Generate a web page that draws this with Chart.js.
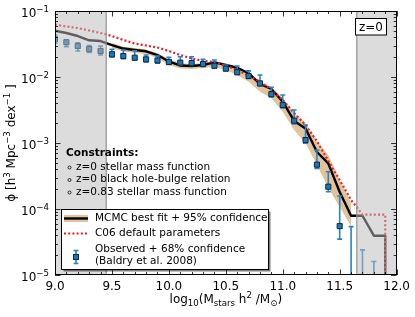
<!DOCTYPE html>
<html><head><meta charset="utf-8">
<script src="https://cdn.jsdelivr.net/npm/chart.js@4"></script>
<style>html,body{margin:0;padding:0;background:#fff}#wrap{width:415px;height:317px;position:relative}</style>
</head><body><div id="wrap"><canvas id="c"></canvas></div>
<script>
// ---------- data ----------
const massBins = [9.0,9.1,9.2,9.3,9.4,9.5,9.6,9.7,9.8,9.9,10.0,10.1,10.2,10.3,10.4,10.5,10.6,10.7,10.8,10.9,11.0,11.1,11.2,11.3,11.4,11.5,11.6,11.7,11.8,11.9];
const bestFit = [0.0503,0.0464,0.0418,0.0360,0.0351,0.0305,0.0270,0.0257,0.0245,0.0215,0.0172,0.0149,0.0147,0.0152,0.0167,0.0152,0.0138,0.0114,0.00783,0.00658,0.00422,0.00216,0.00166,0.00073,0.00049,0.000181,0.000079,0.000079,0.0000394,0.0000394];
const c06Default = [0.0624,0.0582,0.0552,0.0507,0.0464,0.0418,0.0364,0.0322,0.0300,0.0280,0.0248,0.0215,0.0191,0.0175,0.0169,0.0148,0.0128,0.0105,0.00849,0.00636,0.00449,0.00285,0.00187,0.00107,0.000534,0.000275,0.000137,0.000082,0.000082,0.000082];

const bandMass = [9.5,9.6,9.7,9.8,9.9,10.0,10.1,10.2,10.3,10.4,10.5,10.6,10.7,10.8,10.9,11.0,11.1,11.2,11.3,11.4,11.5,11.6];
const bandHi = [0.0327,0.0290,0.0275,0.0261,0.0231,0.0187,0.0163,0.0157,0.0163,0.0171,0.0156,0.0143,0.0120,0.00849,0.00713,0.00475,0.00285,0.00201,0.00105,0.000658,0.000275,0.000123];
const bandLo = [0.0275,0.0243,0.0231,0.0223,0.0194,0.0152,0.0135,0.0132,0.0137,0.0143,0.0128,0.0107,0.00849,0.00598,0.00475,0.00298,0.00157,0.00100,0.000464,0.000208,0.000107,0.000055];

const obsMass = [9.0,9.1,9.2,9.3,9.4,9.5,9.6,9.7,9.8,9.9,10.0,10.1,10.2,10.3,10.4,10.5,10.6,10.7,10.8,10.9,11.0,11.1,11.2,11.3,11.4,11.5,11.6,11.7,11.8];
const obsPhi = [0.0373,0.0336,0.0295,0.0265,0.0248,0.0221,0.0208,0.0196,0.0185,0.0178,0.0169,0.0165,0.0163,0.0157,0.0148,0.0134,0.0118,0.01035,0.0080,0.0055,0.00377,0.00218,0.00111,0.00047,0.000218,0.000055,null,null,null];
const obsHi = [0.0433,0.0364,0.0331,0.0300,0.0295,0.0263,0.0256,0.0250,0.0215,0.0208,0.0199,0.0203,0.0203,0.0185,0.0181,0.0152,0.0147,0.0124,0.0107,0.00698,0.00533,0.00316,0.00187,0.00078,0.000367,0.000157,0.000054,0.000024,0.000016];
const obsLo = [0.0324,0.0288,0.0248,0.0235,0.0215,0.0201,0.0189,0.0179,0.0169,0.0162,0.0155,0.0152,0.0149,0.0144,0.0137,0.0123,0.0109,0.00948,0.00731,0.00498,0.00339,0.00194,0.00099,0.00041,0.000183,0.000035,0,0,0];

const excludedRanges = [[9.0, 9.45], [11.65, 12.0]];
const xTickValues = [9.0,9.5,10.0,10.5,11.0,11.5,12.0];
const xTickLabels = ['9.0','9.5','10.0','10.5','11.0','11.5','12.0'];
const yTickExponents = [-5,-4,-3,-2,-1];

const legendLabels = ['MCMC best fit + 95% confidence','C06 default parameters','Observed + 68% confidence','(Baldry et al. 2008)'];
const constraintsTitle = 'Constraints:';
const constraintsItems = ['z=0 stellar mass function','z=0 black hole-bulge relation','z=0.83 stellar mass function'];
const redshiftLabel = 'z=0';

// ---------- styling ----------
const FONT = '"DejaVu Sans", sans-serif';
const FS = 10.5;      // legend / annotation text
const FT = 12;        // tick labels and axis titles
const BAND = 'rgba(222,184,135,0.85)';
const RED = 'rgb(230,32,38)';
const BLUE = 'rgb(31,119,180)';
const EDGE = 'rgb(10,40,70)';
const ERR = 'rgb(40,130,200)';
const GREYSPAN = 'rgba(187,187,187,0.51)';
const Y_MIN = 1e-5, Y_MAX = 0.1;

function toPts(xs, ys){ return xs.map((x,i)=>({x:x, y:ys[i]})); }
function withDrop(xs, ys){ const p = toPts(xs, ys); p.push({x: xs[xs.length-1], y: Y_MIN*1e-4}); return p; }

function drawRich(ctx, segs, x, y, align, size){
  const small = size * 0.72;
  const fontFor = k => (k==='n' ? size : small) + 'px ' + FONT;
  let w = 0;
  segs.forEach(s=>{ ctx.font = fontFor(s[1]); w += ctx.measureText(s[0]).width; });
  let cx = align==='center' ? x - w/2 : (align==='right' ? x - w : x);
  ctx.textAlign = 'left'; ctx.textBaseline = 'alphabetic';
  segs.forEach(s=>{
    ctx.font = fontFor(s[1]);
    const dy = s[1]==='sup' ? -size*0.42 : (s[1]==='sub' ? size*0.25 : 0);
    ctx.fillText(s[0], cx, y + dy);
    cx += ctx.measureText(s[0]).width;
  });
}

const OBS_INDEX = 4;
const errorBarPlugin = {
  id:'errorBars',
  beforeDatasetDraw(chart, args){
    if (args.index !== OBS_INDEX) return;
    const {ctx, chartArea:a, scales:{x, y}} = chart;
    ctx.save();
    ctx.beginPath(); ctx.rect(a.left, a.top, a.right-a.left, a.bottom-a.top); ctx.clip();
    ctx.strokeStyle = ERR; ctx.lineWidth = 1.6;
    obsMass.forEach((m,i)=>{
      const px = x.getPixelForValue(m);
      const yh = y.getPixelForValue(obsHi[i]);
      const yl = obsLo[i] > 0 ? y.getPixelForValue(obsLo[i]) : a.bottom + 6;
      ctx.beginPath();
      ctx.moveTo(px, yh); ctx.lineTo(px, yl);
      ctx.moveTo(px-2.5, yh); ctx.lineTo(px+2.5, yh);
      ctx.moveTo(px-2.5, yl); ctx.lineTo(px+2.5, yl);
      ctx.stroke();
    });
    ctx.restore();
  }
};

const framePlugin = {
  id:'frame',
  afterDatasetsDraw(chart){
    const {ctx, chartArea:a, scales:{x, y}} = chart;
    ctx.save();
    ctx.beginPath(); ctx.rect(a.left, a.top, a.right-a.left, a.bottom-a.top); ctx.clip();
    excludedRanges.forEach(r=>{
      const x0 = x.getPixelForValue(r[0]), x1 = x.getPixelForValue(r[1]);
      ctx.fillStyle = GREYSPAN; ctx.fillRect(x0, a.top, x1-x0, a.bottom-a.top);
      ctx.strokeStyle = 'rgba(140,140,140,0.85)'; ctx.lineWidth = 1.3;
      ctx.strokeRect(x0, a.top, x1-x0, a.bottom-a.top);
    });
    ctx.restore();
    ctx.save();
    ctx.strokeStyle = '#000'; ctx.lineWidth = 0.8;
    ctx.beginPath();
    for (let k=0; k<=30; k++){
      const v = 9 + k*0.1;
      const px = Math.round(x.getPixelForValue(v)) + 0.5;
      const len = (k % 5 === 0) ? 5.5 : 3;
      ctx.moveTo(px, a.bottom); ctx.lineTo(px, a.bottom - len);
      ctx.moveTo(px, a.top); ctx.lineTo(px, a.top + len);
    }
    for (let e=-5; e<=-1; e++){
      for (let m=1; m<=9; m++){
        const v = m * Math.pow(10, e);
        if (v > Y_MAX*1.0001) continue;
        const py = Math.round(y.getPixelForValue(v)) + 0.5;
        const len = (m===1) ? 5.5 : 3;
        ctx.moveTo(a.left, py); ctx.lineTo(a.left + len, py);
        ctx.moveTo(a.right, py); ctx.lineTo(a.right - len, py);
      }
    }
    ctx.stroke();
    ctx.lineWidth = 1;
    ctx.strokeRect(Math.round(a.left)+0.5, Math.round(a.top)+0.5, Math.round(a.right-a.left)-1, Math.round(a.bottom-a.top)-1);
    ctx.restore();
  },
  afterDraw(chart){
    const {ctx, chartArea:a, scales:{x, y}} = chart;
    ctx.save();
    ctx.fillStyle = '#000';
    yTickExponents.forEach(e=>{
      const py = y.getPixelForValue(Math.pow(10, e));
      drawRich(ctx, [['10','n'],['\u2212'+Math.abs(e),'sup']], a.left - 6, py + 6, 'right', FT);
    });
    drawRich(ctx, [['log','n'],['10','sub'],['(M','n'],['stars','sub'],[' h','n'],['2','sup'],[' /M','n'],['\u2299','sub'],[')','n']], (a.left+a.right)/2, 303, 'center', FT);
    ctx.save();
    ctx.translate(15, (a.top+a.bottom)/2);
    ctx.rotate(-Math.PI/2);
    drawRich(ctx, [['\u03D5 [h','n'],['3','sup'],[' Mpc','n'],['\u22123','sup'],[' dex','n'],['\u22121','sup'],[' ]','n']], 0, 0, 'center', FT);
    ctx.restore();

    ctx.textAlign = 'left'; ctx.textBaseline = 'middle';
    ctx.font = 'bold ' + FS + 'px ' + FONT;
    ctx.fillText(constraintsTitle, 66, 153.5);
    ctx.font = FS + 'px ' + FONT;
    constraintsItems.forEach((t,i)=>{
      const cy = 167 + i*12.5;
      ctx.beginPath(); ctx.arc(69.5, cy+0.5, 1.5, 0, Math.PI*2);
      ctx.lineWidth = 0.8; ctx.strokeStyle = '#000'; ctx.stroke();
      ctx.fillText(t, 76, cy);
    });

    const bx = 61.5, by = 209.5, bw = 207, bh = 60;
    ctx.fillStyle = 'rgba(0,0,0,0.5)';
    ctx.fillRect(bx+2, by+2, bw, bh);
    ctx.fillStyle = '#fff'; ctx.fillRect(bx, by, bw, bh);
    ctx.strokeStyle = '#000'; ctx.lineWidth = 1; ctx.strokeRect(bx, by, bw, bh);
    ctx.fillStyle = BAND; ctx.fillRect(64, 215, 24, 7);
    ctx.beginPath(); ctx.moveTo(64, 218.5); ctx.lineTo(88, 218.5);
    ctx.strokeStyle = '#000'; ctx.lineWidth = 2.4; ctx.stroke();
    ctx.beginPath(); ctx.moveTo(64, 233.5); ctx.lineTo(88, 233.5);
    ctx.strokeStyle = RED; ctx.lineWidth = 2.2; ctx.setLineDash([2,2.2]); ctx.stroke(); ctx.setLineDash([]);
    ctx.beginPath(); ctx.moveTo(76, 250.5); ctx.lineTo(76, 263.5);
    ctx.moveTo(73.5, 250.5); ctx.lineTo(78.5, 250.5);
    ctx.moveTo(73.5, 263.5); ctx.lineTo(78.5, 263.5);
    ctx.strokeStyle = ERR; ctx.lineWidth = 1.6; ctx.stroke();
    ctx.fillStyle = BLUE; ctx.fillRect(73.5, 254.5, 5, 5);
    ctx.strokeStyle = EDGE; ctx.lineWidth = 1; ctx.strokeRect(73.5, 254.5, 5, 5);
    ctx.fillStyle = '#000'; ctx.font = FS + 'px ' + FONT; ctx.textBaseline = 'middle';
    ctx.fillText(legendLabels[0], 95, 218.5);
    ctx.fillText(legendLabels[1], 95, 233.5);
    ctx.fillText(legendLabels[2], 95, 249.5);
    ctx.fillText(legendLabels[3], 95, 261.5);

    ctx.fillStyle = '#fff'; ctx.fillRect(355.5, 18.5, 31, 16.5);
    ctx.strokeStyle = '#000'; ctx.lineWidth = 1; ctx.strokeRect(355.5, 18.5, 31, 16.5);
    ctx.fillStyle = '#000'; ctx.font = '12px ' + FONT; ctx.textAlign = 'center';
    ctx.fillText(redshiftLabel, 371, 27.5);
    ctx.restore();
  }
};

new Chart(document.getElementById('c'), {
  type:'line',
  data:{ datasets:[
    { label:'band upper', data: toPts(bandMass, bandHi), borderWidth:0, borderColor:'rgba(0,0,0,0)', pointRadius:0, fill:false, order:6 },
    { label:'band lower', data: toPts(bandMass, bandLo), borderWidth:0, borderColor:'rgba(0,0,0,0)', pointRadius:0, fill:'-1', backgroundColor: BAND, order:5 },
    { label:legendLabels[0], data: withDrop(massBins, bestFit), borderColor:'#000', borderWidth:2.4, pointRadius:0, fill:false, borderJoinStyle:'round', order:3 },
    { label:legendLabels[1], data: withDrop(massBins, c06Default), borderColor:RED, borderWidth:2.2, borderDash:[2,2.2], pointRadius:0, fill:false, order:2 },
    { label:legendLabels[2], data: toPts(obsMass, obsPhi), showLine:false, pointStyle:'rect', pointRadius:3.6, backgroundColor:BLUE, borderColor:EDGE, borderWidth:1, order:1 }
  ]},
  options:{
    responsive:true, maintainAspectRatio:false, animation:false, events:[],
    layout:{padding:{top:11, right:18, left:0, bottom:0}},
    plugins:{legend:{display:false}, tooltip:{enabled:false}, filler:{propagate:false}},
    scales:{
      x:{ type:'linear', min:9, max:12,
          grid:{display:false, drawTicks:false}, border:{display:false},
          afterBuildTicks: s => { s.ticks = xTickValues.map(v=>({value:v})); },
          afterFit: s => { s.height = 42; },
          ticks:{ padding:5, color:'#000', font:{family:FONT, size:FT}, maxRotation:0, autoSkip:false,
                  callback:(v, i) => xTickLabels[i] } },
      y:{ type:'logarithmic', min:Y_MIN, max:Y_MAX,
          grid:{display:false, drawTicks:false}, border:{display:false},
          afterBuildTicks: s => { s.ticks = yTickExponents.map(e=>({value:Math.pow(10,e)})); },
          afterFit: s => { s.width = 55; },
          ticks:{ display:false } }
    }
  },
  plugins:[errorBarPlugin, framePlugin]
});
</script>
</body></html>
